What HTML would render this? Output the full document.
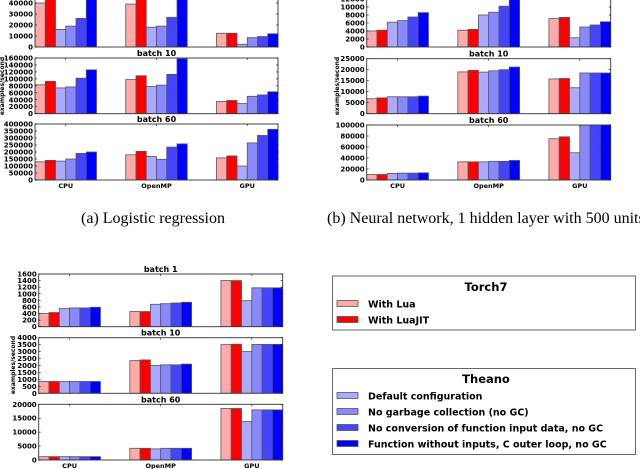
<!DOCTYPE html>
<html><head><meta charset="utf-8">
<style>
body{margin:0;background:#fff;}
svg{display:block;}
.t{font-family:"DejaVu Sans","Liberation Sans",sans-serif;font-weight:bold;fill:#000;}
.cap{font-family:"Liberation Serif",serif;font-size:16px;fill:#000;}
</style></head>
<body>
<svg id="chart" width="640" height="469" viewBox="0 0 640 469" xmlns="http://www.w3.org/2000/svg">
<text class="cap" x="153" y="223" text-anchor="middle">(a) Logistic regression</text>
<text class="cap" x="327" y="223">(b) Neural network, 1 hidden layer with 500 units</text>
<g>
<rect x="332.5" y="276" width="303" height="54" fill="#fff" stroke="#666" stroke-width="1"/>
<text class="t" x="486" y="291" font-size="11.5" text-anchor="middle" font-weight="normal">Torch7</text>
</g>
<g>
<rect x="332.5" y="368.5" width="303" height="86" fill="#fff" stroke="#666" stroke-width="1"/>
<text class="t" x="486" y="383" font-size="11.5" text-anchor="middle" font-weight="normal">Theano</text>
</g>
</svg>
<script>
const categories = ["CPU","OpenMP","GPU"];
const seriesNames = ["With Lua","With LuaJIT","Default configuration","No garbage collection (no GC)","No conversion of function input data, no GC","Function without inputs, C outer loop, no GC"];
const colors = ["#ffaaaa","#ff0000","#aaaaff","#8888ff","#4444ff","#0000ff"];
// Panel A: logistic regression
const a1 = [[40000,60000,16000,19000,26000,60000],[39000,60000,18000,19000,27000,60000],[12500,12500,2500,8500,9500,12000]];
const a10 = [[83000,93000,74000,77000,102000,126000],[98000,109000,78000,82000,113000,158000],[35000,38000,29000,50000,54000,63000]];
const a60 = [[130000,140000,135000,150000,190000,200000],[180000,205000,168000,148000,235000,258000],[158000,172000,100000,265000,318000,362000]];
const aTicks1 = [0,10000,20000,30000,40000,50000];
const aTicks10 = [0,20000,40000,60000,80000,100000,120000,140000,160000];
const aTicks60 = [0,50000,100000,150000,200000,250000,300000,350000,400000];
// Panel B: neural network
const b1 = [[4000,4200,6200,6600,7500,8600],[4200,4400,8000,8700,10200,16000],[7100,7400,2300,5000,5500,6300]];
const b10 = [[6800,7200,7700,7700,7700,8000],[19000,19700,18900,19500,20000,21200],[15800,16000,11800,18500,18500,18500]];
const b60 = [[10000,10000,12000,12500,12500,13000],[33000,33000,33000,34000,34000,35500],[75000,78500,49500,100000,100000,100000]];
const bTicks1 = [0,2000,4000,6000,8000,10000,12000,14000];
const bTicks10 = [0,5000,10000,15000,20000,25000];
const bTicks60 = [0,20000,40000,60000,80000,100000];
// Panel C
const c1 = [[400,430,550,570,570,590],[460,460,680,700,720,740],[1400,1400,790,1180,1180,1180]];
const c10 = [[850,850,850,850,850,850],[2350,2400,2000,2050,2050,2100],[3500,3530,3000,3520,3520,3520]];
const c60 = [[1200,1200,1200,1200,1200,1200],[4200,4200,4000,4200,4200,4200],[18500,18500,13800,18000,18000,18000]];
const cTicks1 = [0,200,400,600,800,1000,1200,1400,1600];
const cTicks10 = [0,500,1000,1500,2000,2500,3000,3500,4000];
const cTicks60 = [0,5000,10000,15000,20000];

const svg = document.getElementById('chart');
const NS = 'http://www.w3.org/2000/svg';
function mk(tag, attrs, parent){
  const e = document.createElementNS(NS, tag);
  for (const k in attrs) e.setAttribute(k, attrs[k]);
  (parent||svg).appendChild(e);
  return e;
}
function panel(id, x0, x1, yTop, yBot, ymax, data, ticks, title, showCats){
  const g = mk('g', {});
  
  
  const W = x1 - x0;
  const unit = W / (18 + 2*2.85);
  const yS = v => yBot - (Math.min(v, ymax*1.2)/ymax)*(yBot-yTop);
  mk('rect', {x:x0, y:yTop, width:W, height:yBot-yTop, fill:'#fff'}, g);
  const clip = mk('clipPath', {id:'clip-'+id}, g);
  mk('rect', {x:x0, y:yTop, width:W, height:yBot-yTop}, clip);
  const bars = mk('g', {'clip-path':'url(#clip-'+id+')'}, g);
  data.forEach((grp, gi) => {
    const gx = x0 + gi*(6+2.85)*unit;
    grp.forEach((v, si) => {
      const y = yS(v);
      const r = mk('rect', {x:gx+si*unit, y:y, width:unit, height:yBot-y, fill:colors[si], stroke:'#555', 'stroke-width':0.8}, bars);
      
      
    });
    if (showCats){
      const t = mk('text', {x:gx+3*unit, y:yBot+8, 'font-size':6.5, 'text-anchor':'middle', class:'t'}, g);
      t.textContent = categories[gi];
      
      
    }
    const tx = gx + 3*unit;
    mk('line', {x1:tx, x2:tx, y1:yTop, y2:yTop+2, stroke:'#000', 'stroke-width':0.6}, g);
  });
  mk('rect', {x:x0, y:yTop, width:W, height:yBot-yTop, fill:'none', stroke:'#333', 'stroke-width':0.9}, g);
  ticks.forEach(tv => {
    const y = yS(tv);
    if (y < -2) return;
    mk('line', {x1:x0, x2:x0+2, y1:y, y2:y, stroke:'#000', 'stroke-width':0.6}, g);
    mk('line', {x1:x1-2, x2:x1, y1:y, y2:y, stroke:'#000', 'stroke-width':0.6}, g);
    const t = mk('text', {x:x0-2, y:y+2.5, 'font-size':7, 'text-anchor':'end', class:'t'}, g);
    t.textContent = tv;
    
    
  });
  if (title){
    const t = mk('text', {x:(x0+x1)/2, y:yTop-2, 'font-size':8, 'text-anchor':'middle', class:'t'}, g);
    t.textContent = title;
    
    
  }
}
function ylabel(x, y){
  const t = mk('text', {x:0, y:0, transform:'translate('+x+','+y+') rotate(-90)', 'font-size':6, 'text-anchor':'middle', class:'t'});
  t.textContent = 'examples/second';
  
  
}
panel('panel-a-batch1', 35, 278, -8, 47, 50000, a1, aTicks1, '', false);
panel('panel-a-batch10', 35, 278, 58, 113.7, 160000, a10, aTicks10, 'batch 10', false);
panel('panel-a-batch60', 35, 278, 124, 180, 400000, a60, aTicks60, 'batch 60', true);
ylabel(4, 86);
panel('panel-b-batch1', 366.7, 610.7, -9, 47, 14000, b1, bTicks1, '', false);
panel('panel-b-batch10', 366.7, 610.7, 58.7, 113.7, 25000, b10, bTicks10, 'batch 10', false);
panel('panel-b-batch60', 366.7, 610.7, 125, 180, 100000, b60, bTicks60, 'batch 60', true);
ylabel(339, 86);
panel('panel-c-batch1', 38.7, 282.7, 274, 326.7, 1600, c1, cTicks1, 'batch 1', false);
panel('panel-c-batch10', 38.7, 282.7, 337.7, 393.3, 4000, c10, cTicks10, 'batch 10', false);
panel('panel-c-batch60', 38.7, 282.7, 404.3, 460, 20000, c60, cTicks60, 'batch 60', true);
ylabel(15, 365);
const legY = [304, 320, 396, 412, 428, 444];
seriesNames.forEach((n, i) => {
  const g = mk('g', {});
  
  
  mk('rect', {x:337, y:legY[i]-3.5, width:21, height:6, fill:colors[i], stroke:'#555', 'stroke-width':0.8}, g);
  const t = mk('text', {x:368, y:legY[i]+3.5, 'font-size':9.5, class:'t'}, g);
  t.textContent = n;
});
</script>
</body></html>
